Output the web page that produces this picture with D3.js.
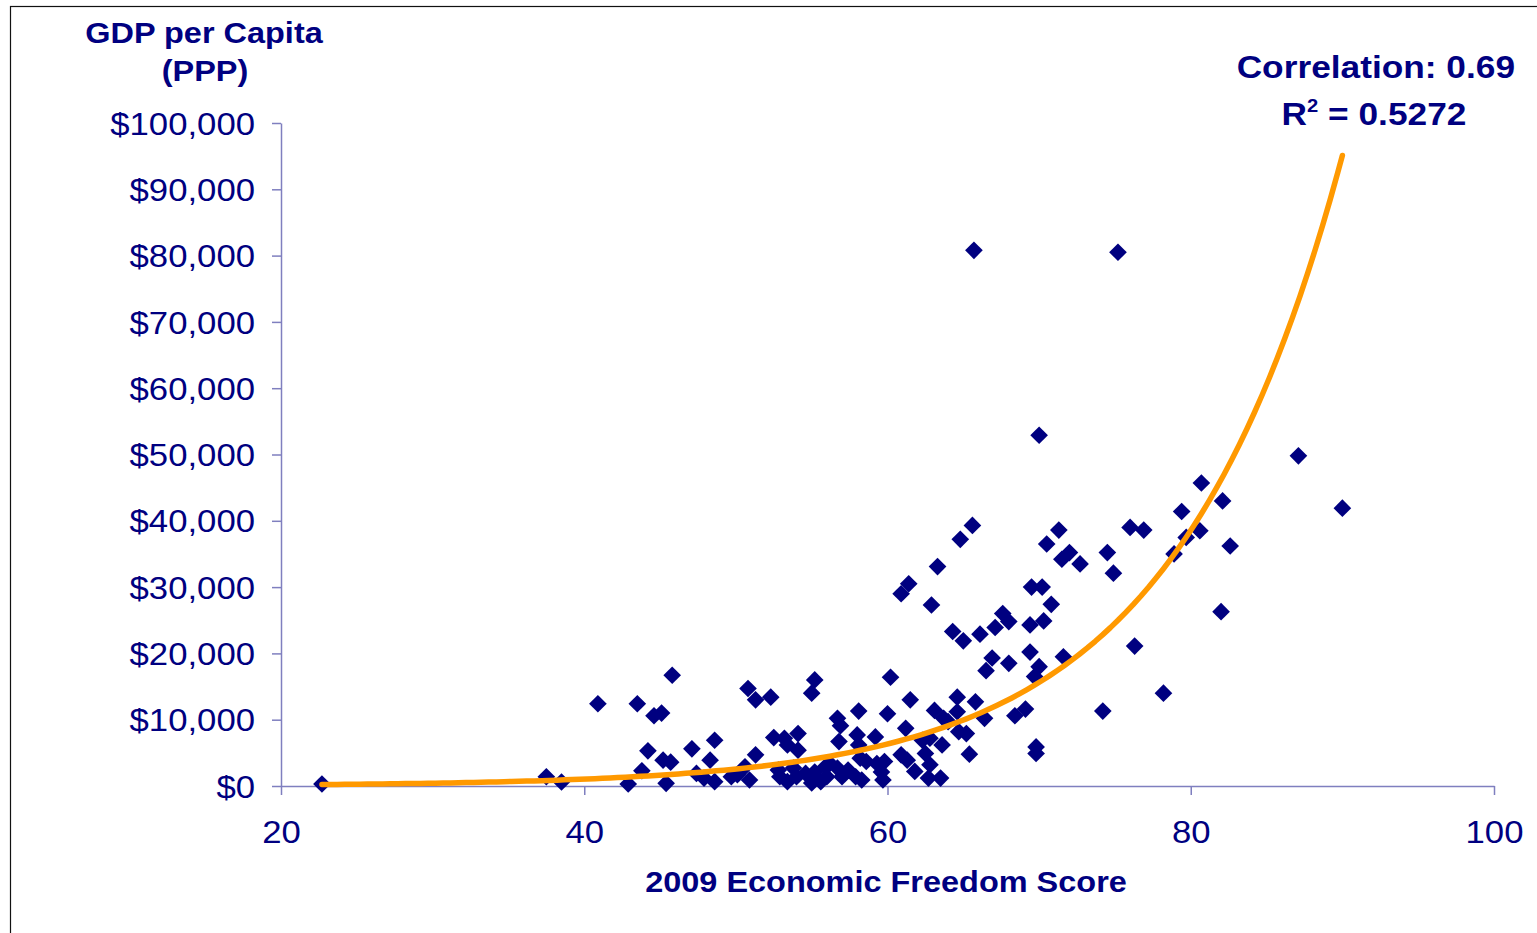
<!DOCTYPE html>
<html>
<head>
<meta charset="utf-8">
<script src="https://cdn.jsdelivr.net/npm/d3@7"></script>
<style>
  html, body { margin: 0; padding: 0; background: #ffffff; }
  svg { display: block; }
</style>
</head>
<body>
<svg id="chart" width="1537" height="933"></svg>
<script>
// 2009 Index of Economic Freedom score for each country
const freedomScores = [
  22.7, 37.5, 38.5, 40.9, 42.9, 43.5, 43.8, 44.2, 44.6, 45.1,
  45.2, 45.7, 45.4, 45.8, 47.1, 47.4, 47.9, 48.3, 48.6, 48.6,
  49.7, 50.1, 50.6, 50.9, 50.8, 51.3, 51.3, 52.3, 52.5, 52.8,
  52.9, 53.2, 53.4, 53.4, 53.8, 54.0, 54.1, 54.1, 54.6, 55.0,
  55.2, 55.2, 55.6, 55.0, 55.9, 56.0, 56.2, 56.7, 56.9, 56.8,
  56.7, 57.0, 57.4, 57.9, 58.0, 58.1, 58.1, 58.2, 58.3, 58.6,
  59.2, 59.3, 59.6, 59.7, 59.8, 60.0, 60.2, 60.9, 60.9, 61.2,
  61.3, 61.4, 61.5, 61.8, 62.3, 62.5, 62.7, 62.8, 62.8, 62.9,
  63.1, 63.3, 63.5, 63.6, 63.7, 64.0, 64.3, 64.6, 64.6, 64.7,
  64.8, 65.0, 65.2, 65.4, 65.6, 65.7, 65.8, 66.1, 66.4, 66.5,
  66.9, 67.1, 67.6, 68.0, 68.0, 68.4, 69.1, 69.4, 69.4, 69.5,
  69.7, 69.8, 69.8, 70.0, 70.0, 70.2, 70.3, 70.5, 70.8, 71.3,
  71.5, 71.6, 72.0, 72.7, 74.2, 74.5, 74.9, 75.2, 76.0, 76.3,
  76.9, 78.2, 78.9, 79.4, 79.7, 80.6, 80.7, 82.0, 82.1, 82.6,
  87.1, 90.0
];

// GDP per capita (PPP), US dollars, same order as the scores
const gdpPerCapita = [
    300,  1400,   600, 12400,   300, 12400,  2300,  5300, 10600, 11000,
   3900,  3600,   400, 16700,  5600,  1900,  1200,  3900,  6900,   650,
   1400,  1700,  2900,   900, 14700, 13000,  4700, 13400,  7300,  2400,
   1400,  7200,  6200,   650,  2700,  1400,  7900,  5400,  1900, 14000,
  16000,  2100,   650,   450,  2900,  1400,  3400, 10200,  9100,  6700,
   2700,  1400,  2400,  1400,  7700, 11300,  6200,  4200,   900,  3700,
   7400,  3400,  2100,   900,  3700, 10900, 16400,  4700, 29000,  8700,
   3900, 30500, 13000,  2200,  6900,  4900,  1200,  7200,  3200, 27300,
  11400, 33100,  1200,  6200, 10200,  9700, 23300, 13400, 11200,  8200,
  37200, 21900,  7900,  4800, 39300, 80800, 12700, 22900, 10200, 17400,
  19300, 23900, 26000, 24800, 18500, 10600, 11600, 24300, 20200, 30000,
  16500,  5900,  4900, 52900, 18000, 30000, 24900, 36500, 27400, 38600,
  34200, 19500, 35200, 33500, 11300, 35200, 32100, 80500, 39000, 21100,
  38600, 14000, 35000, 41400, 37500, 38500, 45700, 26300, 43000, 36200,
  49800, 41900
];

const xTicks = [20, 40, 60, 80, 100];
const yTicks = [0, 10000, 20000, 30000, 40000, 50000, 60000, 70000, 80000, 90000, 100000];

// Exponential trendline y = a * e^(b * x)
const trendA = 28.1;
const trendB = 0.0903;
const trendRange = [22.7, 90];

const correlationLabel = "Correlation: 0.69";
const rSquaredValue = "0.5272";

const navy = "#000080";
const axisColor = "#7f7fbf";
const trendColor = "#ff9900";
const fontFamily = "'Liberation Sans', Arial, Helvetica, sans-serif";
const stretch = 1.12; // wide lettering

const svg = d3.select("#chart");

// outer frame
svg.append("rect")
  .attr("x", 10.5).attr("y", 6.5)
  .attr("width", 1540).attr("height", 940)
  .attr("fill", "none").attr("stroke", "#111").attr("stroke-width", 1.2);

const x = d3.scaleLinear().domain([20, 100]).range([281, 1494]);
const y = d3.scaleLinear().domain([0, 100000]).range([786, 123]);

// y axis
const yAxis = svg.append("g")
  .attr("transform", `translate(${x(20)},0)`)
  .call(d3.axisLeft(y).tickValues(yTicks).tickSize(9).tickSizeOuter(0)
    .tickFormat(d3.format("$,")));
yAxis.select(".domain").attr("stroke", axisColor).attr("stroke-width", 1.5);
yAxis.selectAll(".tick line").attr("stroke", axisColor).attr("stroke-width", 1.5);
yAxis.selectAll(".tick text")
  .attr("x", -26 / stretch).attr("dy", "0.36em")
  .attr("transform", `scale(${stretch},1)`)
  .attr("fill", navy)
  .style("font-family", fontFamily).style("font-size", "31px");

// x axis
const xAxis = svg.append("g")
  .attr("transform", `translate(0,${y(0)})`)
  .call(d3.axisBottom(x).tickValues(xTicks).tickSize(9).tickSizeOuter(0)
    .tickFormat(d3.format("d")));
xAxis.select(".domain").attr("stroke", axisColor).attr("stroke-width", 1.5);
xAxis.selectAll(".tick line").attr("stroke", axisColor).attr("stroke-width", 1.5);
xAxis.selectAll(".tick text")
  .attr("y", 57).attr("dy", 0)
  .attr("transform", `scale(${stretch},1)`)
  .attr("fill", navy)
  .style("font-family", fontFamily).style("font-size", "31px");

// scatter points as diamonds
const points = freedomScores.map((s, i) => ({ score: s, gdp: gdpPerCapita[i] }));
const diamond = d3.symbol().type(d3.symbolSquare).size(156);
svg.append("g")
  .selectAll("path")
  .data(points)
  .join("path")
  .attr("d", diamond)
  .attr("transform", d => `translate(${x(d.score)},${y(d.gdp)}) rotate(45)`)
  .attr("fill", navy);

// trendline
const trendPoints = d3.range(trendRange[0], trendRange[1] + 0.001, 0.5)
  .map(s => [s, trendA * Math.exp(trendB * s)]);
trendPoints.push([trendRange[1], trendA * Math.exp(trendB * trendRange[1])]);
svg.append("path")
  .datum(trendPoints)
  .attr("fill", "none")
  .attr("stroke", trendColor)
  .attr("stroke-width", 5.5)
  .attr("stroke-linecap", "round")
  .attr("stroke-linejoin", "round")
  .attr("d", d3.line().x(d => x(d[0])).y(d => y(d[1])));

// text helper with horizontal stretch
function label(tx, ty, anchor, size, weight) {
  return svg.append("text")
    .attr("transform", `translate(${tx},${ty}) scale(${stretch},1)`)
    .attr("text-anchor", anchor)
    .attr("fill", navy)
    .style("font-family", fontFamily)
    .style("font-size", size + "px")
    .style("font-weight", weight);
}

// axis titles
label(204, 43, "middle", 29, "bold").text("GDP per Capita");
label(205, 81, "middle", 29, "bold").text("(PPP)");
label(886, 892, "middle", 29, "bold").text("2009 Economic Freedom Score");

// fit statistics
label(1515, 78, "end", 31.5, "bold").text(correlationLabel);
const r2 = label(1374, 125, "middle", 31.5, "bold");
r2.append("tspan").text("R");
r2.append("tspan").attr("dy", -13).style("font-size", "18px").text("2");
r2.append("tspan").attr("dy", 13).text(" = " + rSquaredValue);
</script>
</body>
</html>
